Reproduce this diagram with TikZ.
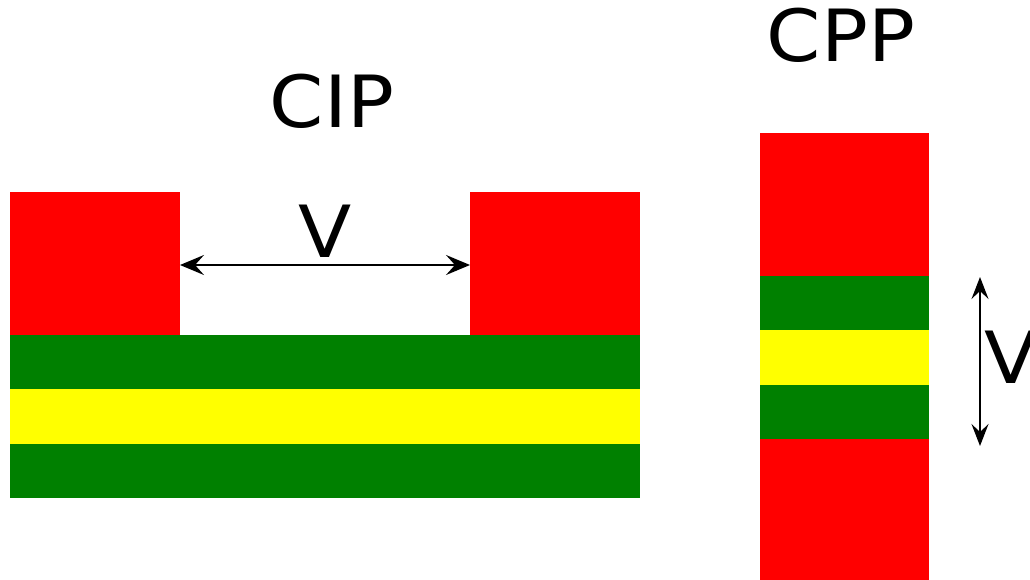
\documentclass[tikz,border=0pt]{standalone}
\usepackage{fontspec}
\setmainfont[FakeStretch=1.08]{DejaVu Sans}
\usetikzlibrary{arrows.meta}
\definecolor{cred}{RGB}{255,0,0}
\definecolor{cgreen}{RGB}{0,128,0}
\definecolor{cyellow}{RGB}{255,255,0}
\tikzset{
  lbl/.style={inner sep=0pt, anchor=base, font=\fontsize{72}{72}\selectfont},
  dimarrow/.style={line width=2pt, >={Stealth[length=24pt,width=20pt,inset=9pt]}, <->}
}
\begin{document}
\begin{tikzpicture}[x=1pt,y=-1pt]
\useasboundingbox (0,0) rectangle (1030,580);
\clip (0,0) rectangle (1030,580);
% CIP
\fill[cred] (10,192) rectangle (180,335);
\fill[cred] (470,192) rectangle (640,335);
\fill[cgreen] (10,335) rectangle (640,389);
\fill[cyellow] (10,389) rectangle (640,444);
\fill[cgreen] (10,444) rectangle (640,498);
\coordinate (cl) at (180,265);
\coordinate (cr) at (470,265);
\draw[dimarrow] (cl) -- (cr);
\node[lbl] (vcip) at (325,257) {V};
\node[lbl] (cip) at (332,128) {CIP};
% CPP
\fill[cred] (760,133) rectangle (929,276);
\fill[cgreen] (760,276) rectangle (929,330);
\fill[cyellow] (760,330) rectangle (929,385);
\fill[cgreen] (760,385) rectangle (929,439);
\fill[cred] (760,439) rectangle (929,580);
\coordinate (pt) at (980,277);
\coordinate (pb) at (980,446);
\draw[dimarrow, line width=1.6pt, >={Stealth[length=22pt,width=17pt,inset=8pt]}] (pt) -- (pb);
\node[lbl, anchor=base west] (vcpp) at (984,383) {V};
\node[lbl] (cpp) at (841,62) {CPP};
\end{tikzpicture}
\end{document}
